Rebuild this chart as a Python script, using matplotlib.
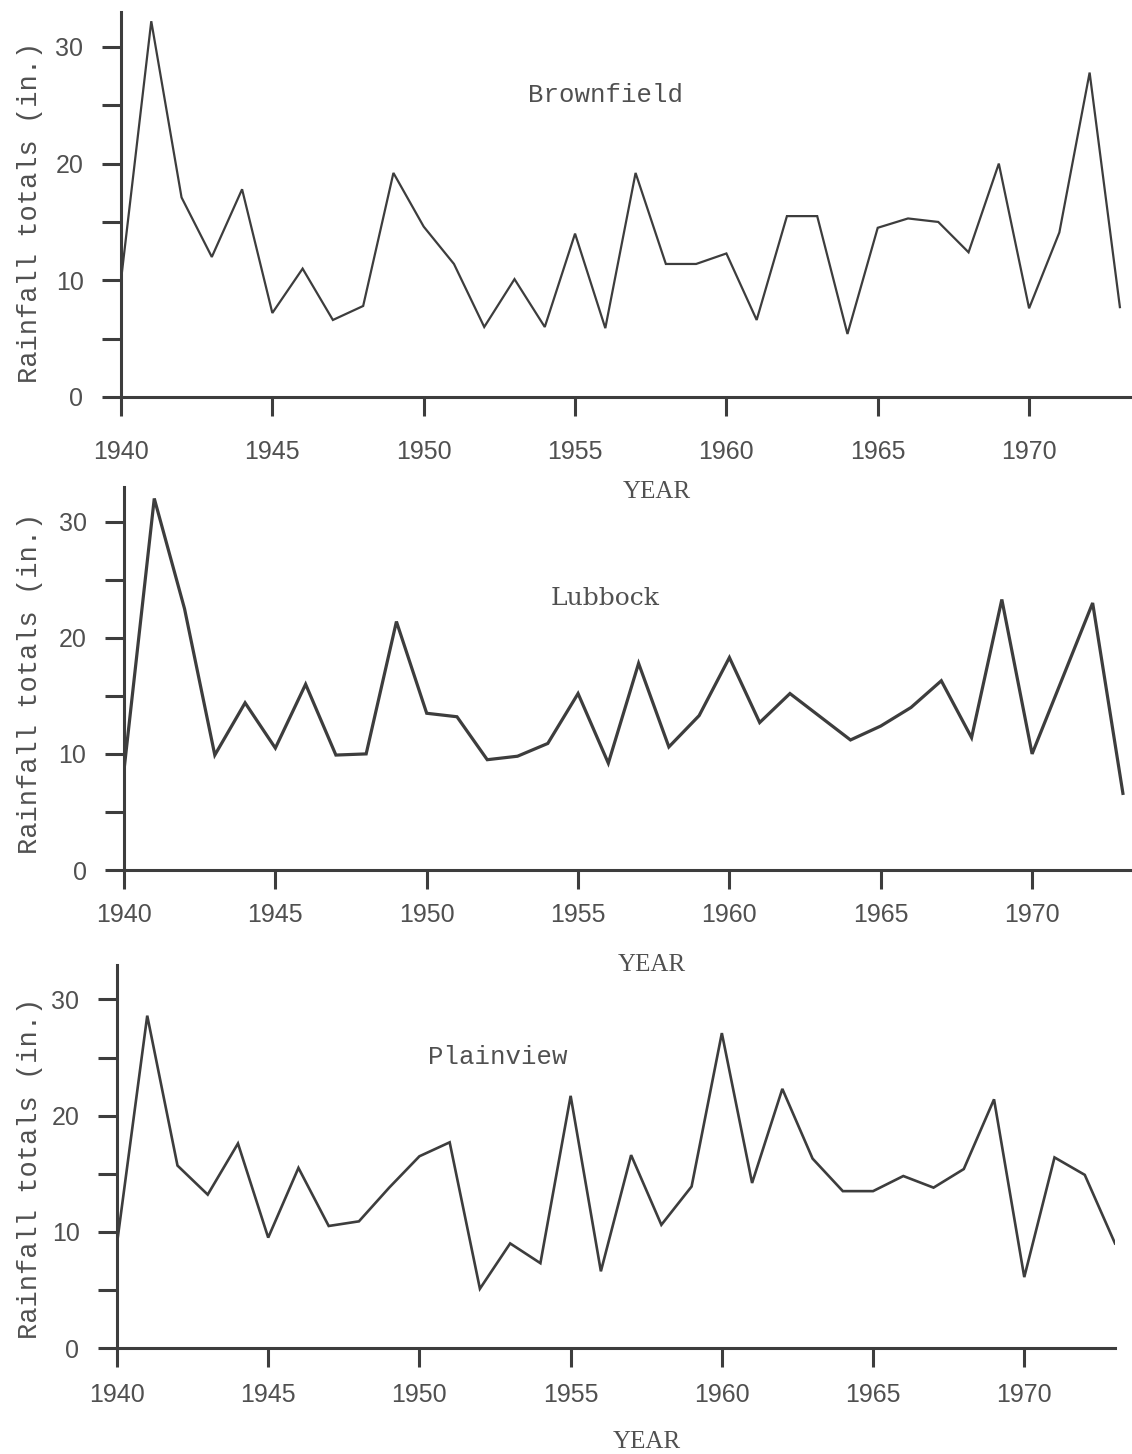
import matplotlib
matplotlib.use("Agg")
import matplotlib.pyplot as plt

# Annual rainfall totals (inches), 1940-1973
years = list(range(1940, 1974))

brownfield = [10.0, 32.2, 17.1, 12.0, 17.8, 7.2, 11.0, 6.6, 7.8, 19.2,
              14.6, 11.4, 6.0, 10.1, 6.0, 14.0, 5.9, 19.2, 11.4, 11.4,
              12.3, 6.6, 15.5, 15.5, 5.4, 14.5, 15.3, 15.0, 12.4, 20.0,
              7.6, 14.1, 27.8, 7.7]

lubbock = [8.6, 32.0, 22.5, 9.9, 14.4, 10.5, 16.0, 9.9, 10.0, 21.4,
           13.5, 13.2, 9.5, 9.8, 10.9, 15.2, 9.2, 17.8, 10.6, 13.3,
           18.3, 12.7, 15.2, 13.2, 11.2, 12.4, 14.0, 16.3, 11.4, 23.3,
           10.0, 16.5, 23.0, 6.6]

plainview = [9.0, 28.6, 15.7, 13.2, 17.6, 9.5, 15.5, 10.5, 10.9, 13.8,
             16.5, 17.7, 5.1, 9.0, 7.3, 21.7, 6.6, 16.6, 10.6, 13.9,
             27.1, 14.2, 22.3, 16.3, 13.5, 13.5, 14.8, 13.8, 15.4, 21.4,
             6.1, 16.4, 14.9, 9.0]

stations = ["Brownfield", "Lubbock", "Plainview"]
series = [brownfield, lubbock, plainview]

year_ticks = [1940, 1945, 1950, 1955, 1960, 1965, 1970]
rain_ticks = [0, 5, 10, 15, 20, 25, 30]
rain_labels = ["0", "", "10", "", "20", "", "30"]

W, H = 1132, 1454
ink = "#3d3d3d"
txt = "#505050"
mono = ["Liberation Mono", "DejaVu Sans Mono"]
sans = ["Liberation Sans", "DejaVu Sans"]
serif = ["Liberation Serif", "DejaVu Serif"]

# per-panel layout in pixels: left spine x, baseline y, right end x, px per inch,
# x max, station label position (data), name font, ylabel centre y, YEAR centre, x label pad, line width
panels = [
    dict(left=121, base=397, right=1132, ppu=11.67, xmax=1973.4,
         name_xy=(1956.0, 25.9), name_font=mono, ylab_y=212,
         year_xy=(657, 492), pad=17, lw=1.6),
    dict(left=124, base=870, right=1132, ppu=11.61, xmax=1973.3,
         name_xy=(1955.9, 23.4), name_font=["DejaVu Serif"], ylab_y=683,
         year_xy=(652, 965), pad=10, lw=2.3),
    dict(left=117, base=1348, right=1115, ppu=11.62, xmax=1973.0,
         name_xy=(1952.6, 25.0), name_font=mono, ylab_y=1168,
         year_xy=(647, 1442), pad=11, lw=1.9),
]

fig = plt.figure(figsize=(W / 100, H / 100), dpi=100)

for name, vals, p in zip(stations, series, panels):
    top = 33
    height = top * p["ppu"]
    ax = fig.add_axes([p["left"] / W, 1 - p["base"] / H,
                       (p["right"] - p["left"]) / W, height / H])
    ax.patch.set_visible(False)
    ax.plot(years, vals, color=ink, lw=p["lw"], solid_joinstyle="miter")
    ax.set_xlim(1940, p["xmax"])
    ax.set_ylim(0, top)

    for s in ["top", "right"]:
        ax.spines[s].set_visible(False)
    for s in ["left", "bottom"]:
        ax.spines[s].set_color(ink)
        ax.spines[s].set_linewidth(2.2)

    ax.set_xticks(year_ticks)
    ax.set_xticklabels([str(y) for y in year_ticks])
    ax.set_yticks(rain_ticks)
    ax.set_yticklabels(rain_labels)
    ax.tick_params(axis="x", direction="out", length=14, width=2.2, color=ink,
                   pad=p["pad"], labelsize=18, labelcolor=txt)
    ax.tick_params(axis="y", direction="out", length=14, width=2.2, color=ink,
                   pad=13, labelsize=18, labelcolor=txt)
    for lab in ax.get_xticklabels() + ax.get_yticklabels():
        lab.set_family(sans)

    ax.set_ylabel("Rainfall totals (in.)", family=mono, fontsize=19.5,
                  color=txt, va="center")
    ax.yaxis.set_label_coords(30 / W, 1 - p["ylab_y"] / H, transform=fig.transFigure)

    ax.set_xlabel("YEAR", family=serif, fontsize=18, color=txt, va="center")
    ax.xaxis.set_label_coords(p["year_xy"][0] / W, 1 - p["year_xy"][1] / H,
                              transform=fig.transFigure)

    ax.text(p["name_xy"][0], p["name_xy"][1], name, family=p["name_font"],
            fontsize=18.5 if name != "Lubbock" else 18, color=txt,
            ha="center", va="center")

fig.savefig("out.png", dpi=100, facecolor="white")
